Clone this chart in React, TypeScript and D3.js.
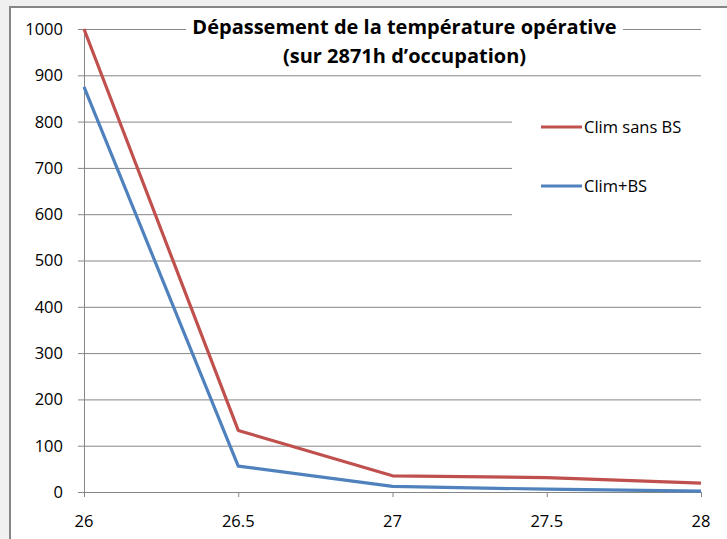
import React from "react";
import * as d3 from "d3";

const temps = [26, 26.5, 27, 27.5, 28];
const climSansBS = [1000, 133, 35, 31, 19];
const climBS = [875, 56, 12, 6, 2];
const yTicks = [0, 100, 200, 300, 400, 500, 600, 700, 800, 900, 1000];
const xTicks = [26, 26.5, 27, 27.5, 28];
const seriesNames = ["Clim sans BS", "Clim+BS"];
const colors = ["#C0504D", "#4F81BD"];
const titleLines = ["Dépassement de la température opérative", "(sur 2871h d’occupation)"];

const W = 727, H = 539;
const FONT = "'Open Sans', 'Liberation Sans', sans-serif";

export default function App() {
  const x = d3.scaleLinear().domain([26, 28]).range([84, 701]);
  const y = d3.scaleLinear().domain([0, 1000]).range([492, 29]);
  const line = d3.line<number>().x((_, i) => x(temps[i])).y((d) => y(d));
  const series = [climSansBS, climBS];
  const grid = "#868686";
  return (
    <svg width={W} height={H} style={{ position: "fixed", left: 0, top: 0 }} fontFamily={FONT}>
      <rect x={0} y={0} width={W} height={H} fill="#f0f0f0" />
      <rect x={10} y={7} width={W} height={H} fill="#ffffff" stroke={grid} strokeWidth={2} />
      {yTicks.map((t) => (
        <g key={t}>
          <line x1={78} x2={701} y1={y(t) + 0.5} y2={y(t) + 0.5} stroke={grid} strokeWidth={1} />
          <text x={63} y={y(t)} dy="0.36em" textAnchor="end" fontSize={16.5} fill="#000">{t}</text>
        </g>
      ))}
      <line x1={84.5} x2={84.5} y1={29} y2={497} stroke={grid} strokeWidth={1} />
      {xTicks.map((t) => (
        <g key={t}>
          <line x1={x(t) + 0.5} x2={x(t) + 0.5} y1={492} y2={497} stroke={grid} strokeWidth={1} />
          <text x={x(t)} y={521} dy="0.36em" textAnchor="middle" fontSize={16.5} fill="#000">{t}</text>
        </g>
      ))}
      {/* title background */}
      <rect x={186} y={12} width={437} height={58} fill="#ffffff" />
      <text x={404.5} y={34} textAnchor="middle" fontSize={20} fontWeight="bold" fill="#000">{titleLines[0]}</text>
      <text x={404.5} y={63} textAnchor="middle" fontSize={20} fontWeight="bold" fill="#000">{titleLines[1]}</text>
      {/* legend background */}
      <rect x={512} y={95} width={215} height={140} fill="#ffffff" />
      {series.map((s, i) => (
        <path key={i} d={line(s) || ""} fill="none" stroke={colors[i]} strokeWidth={3.2} strokeLinejoin="round" />
      ))}
      {seriesNames.map((n, i) => (
        <g key={n}>
          <line x1={541} x2={582} y1={127 + i * 59} y2={127 + i * 59} stroke={colors[i]} strokeWidth={3.2} />
          <text x={584} y={127 + i * 59} dy="0.36em" fontSize={16.5} fill="#000">{n}</text>
        </g>
      ))}
    </svg>
  );
}
